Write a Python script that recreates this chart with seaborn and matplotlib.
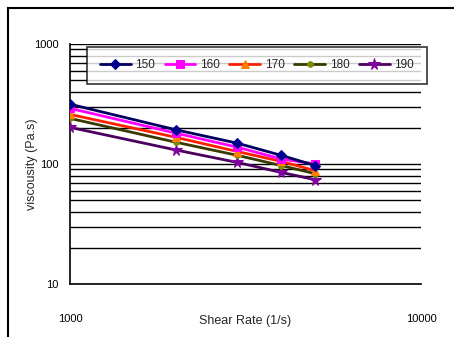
import numpy as np
import pandas as pd
import matplotlib
matplotlib.use('Agg')
import matplotlib.pyplot as plt
from matplotlib.patches import Rectangle
import seaborn as sns

sns.set_style('white')
plt.rcParams['font.family'] = ['Liberation Sans', 'DejaVu Sans']

# data
shear_rate = [1000, 2000, 3000, 4000, 5000]
temps = ['150', '160', '170', '180', '190']
visc_150 = [315, 193, 149, 118, 97]
visc_160 = [291, 181, 138, 110, 100]
visc_170 = [259, 167, 127, 105, 88]
visc_180 = [240, 152, 118, 97, 83]
visc_190 = [202, 131, 103, 85, 74]
y_ticks = [10, 100, 1000]
x_ticks = [1000, 10000]

series = [visc_150, visc_160, visc_170, visc_180, visc_190]
df = pd.DataFrame({
    'shear': shear_rate * len(temps),
    'visc': [v for s in series for v in s],
    'temp': [t for t in temps for _ in shear_rate],
})

line_cols = ['#000060', '#ff00ff', '#ff2000', '#3a3a00', '#4b0060']
mark_cols = ['#000090', '#ff00ff', '#ff8000', '#7a8c00', '#8000a0']
markers = ['D', 's', '^', 'o', '*']
msizes = [5, 6, 6, 4, 8.5]

fig = plt.figure(figsize=(4.54, 3.37), dpi=100)
ax = fig.add_axes([70/454, 1-284/337, (421-70)/454, (284-44)/337])

for i, t in enumerate(temps):
    sub = df[df['temp'] == t]
    sns.lineplot(data=sub, x='shear', y='visc', ax=ax, color=line_cols[i],
                 marker=markers[i], markersize=msizes[i], markerfacecolor=mark_cols[i],
                 markeredgecolor=mark_cols[i], linewidth=2.0, label=t, zorder=3 + 5 - i)

ax.set_xscale('log')
ax.set_yscale('log')
ax.set_xlim(1000, 10000)
ax.set_ylim(10, 1000)
ax.set_xticks(x_ticks)
ax.set_xticklabels([str(v) for v in x_ticks])
ax.set_yticks(y_ticks)
ax.set_yticklabels([str(v) for v in y_ticks])
ax.xaxis.set_minor_locator(matplotlib.ticker.NullLocator())
ax.yaxis.set_minor_locator(matplotlib.ticker.LogLocator(base=10, subs=np.arange(2, 10)))
ax.yaxis.grid(True, which='both', color='black', linewidth=1.0)
ax.tick_params(axis='y', which='minor', length=0)
ax.tick_params(axis='y', which='major', length=5, width=1, direction='out',
               labelsize=8, pad=3, colors='black')
ax.tick_params(axis='x', which='major', length=7, width=1, direction='inout',
               labelsize=8, pad=18, colors='black')

for side in ['top', 'right']:
    ax.spines[side].set_visible(False)
for side in ['left', 'bottom']:
    ax.spines[side].set_color('black')
    ax.spines[side].set_linewidth(1.2)

ax.set_xlabel('Shear Rate (1/s)', fontsize=9)
ax.xaxis.set_label_coords(0.5, -0.128)
ax.set_ylabel('viscousity (Pa.s)', fontsize=9)
ax.yaxis.set_label_coords(-0.092, 0.5)

leg = ax.legend(loc='center', ncol=5, mode='expand', fontsize=8.5,
                bbox_to_anchor=(87/454, 1-84/337, (427-87)/454, (84-47)/337),
                bbox_transform=fig.transFigure, frameon=True, fancybox=False,
                edgecolor='black', handlelength=2.6, handletextpad=0.4,
                borderpad=1.1, borderaxespad=0, columnspacing=1.0)
leg.get_frame().set_linewidth(1.2)
leg.set_zorder(20)

fig.patches.append(Rectangle((8/454, -0.1), 1.2, 1.1 - 8/337, transform=fig.transFigure,
                             fill=False, edgecolor='black', linewidth=1.5))

fig.savefig('out.png', dpi=100)
